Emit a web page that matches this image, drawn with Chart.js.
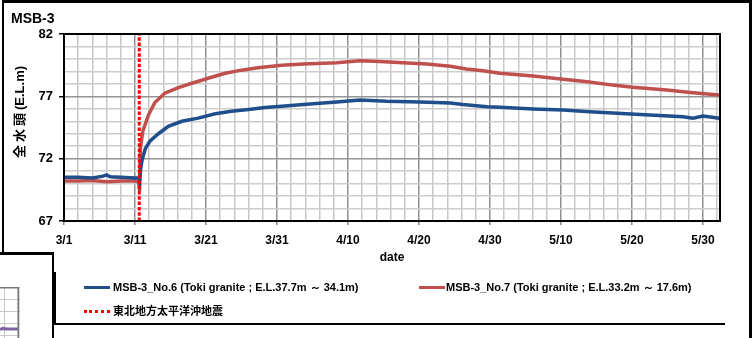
<!DOCTYPE html>
<html>
<head>
<meta charset="utf-8">
<script src="https://cdn.jsdelivr.net/npm/chart.js@4.4.0/dist/chart.umd.min.js"></script>
<style>
body { margin: 0; background: #fff; font-family: "Liberation Sans", Arial, sans-serif; }
#wrap { position: relative; width: 752px; height: 338px; overflow: hidden; }
#main { position: absolute; left: 0; top: 0; }
#inset { position: absolute; left: 0; top: 287px; }
.bar { position: absolute; background: #000; }
#title { position: absolute; left: 11px; top: 10px; font-weight: bold; font-size: 14px; }
#ytitle { position: absolute; left: 18px; top: 112px; transform: translate(-50%, -50%) rotate(-90deg);
  font-weight: bold; font-size: 13px; white-space: nowrap; font-family: "Liberation Sans", "Noto Sans CJK JP", sans-serif; }
#ytitle .jp { letter-spacing: 3px; }
.item { position: absolute; font-weight: bold; font-size: 11px; white-space: nowrap; line-height: 12px; }
.item .jp { font-family: "Noto Sans CJK JP", sans-serif; font-size: 11px; }
.swatch { position: absolute; width: 26px; height: 0; }
</style>
</head>
<body>
<div id="wrap">
  <canvas id="main" width="752" height="338"></canvas>
  <canvas id="inset" width="20" height="51"></canvas>

  <!-- figure frames -->
  <div class="bar" style="left:2px;top:0;width:750px;height:3px"></div>
  <div class="bar" style="left:2px;top:0;width:2px;height:253px"></div>
  <div class="bar" style="left:749px;top:0;width:3px;height:338px"></div>
  <div class="bar" style="left:0;top:252px;width:54px;height:3px"></div>
  <div class="bar" style="left:52px;top:252px;width:2px;height:86px"></div>
  <div class="bar" style="left:54px;top:272px;width:2px;height:53px"></div>
  <div class="bar" style="left:54px;top:323px;width:671px;height:2px"></div>

  <div id="title">MSB-3</div>
  <div id="ytitle"><span class="jp">全水頭</span>(E.L.m)</div>

  <div class="swatch" style="left:84px;top:286px;border-top:3px solid #1f4e8a"></div>
  <div class="item" style="left:113px;top:281px">MSB-3_No.6 (Toki granite ; E.L.37.7m ～ 34.1m)</div>
  <div class="swatch" style="left:419px;top:286px;border-top:3px solid #c0504d"></div>
  <div class="item" style="left:446px;top:281px">MSB-3_No.7 (Toki granite ; E.L.33.2m ～ 17.6m)</div>
  <div class="swatch" style="left:84px;top:310px;border-top:3px dotted #ff0000"></div>
  <div class="item" style="left:113px;top:304px"><span class="jp">東北地方太平洋沖地震</span></div>
</div>

<script>
// days counted from 3/1
const xTickLabels = ['3/1', '3/11', '3/21', '3/31', '4/10', '4/20', '4/30', '5/10', '5/20', '5/30'];
const yMajor = [67, 72, 77, 82];
const quakeDay = 10.6;

// MSB-3_No.6
const no6Days = [0, 2, 4, 5.5, 6, 6.5, 8, 10, 10.55, 10.65, 10.8, 11.0, 11.45, 12.1, 13.3, 14.7, 16.6, 18.9,
  21.3, 23.6, 26.0, 28.3, 30.7, 33.7, 38.4, 41.7, 45.4, 50.1, 54.4, 56.2, 59.6, 61.4, 66.1, 70.3, 74.1,
  77.9, 82.5, 87.2, 88.6, 90.0, 92.3];
const no6Levels = [70.5, 70.5, 70.45, 70.6, 70.7, 70.55, 70.5, 70.45, 70.45, 70.2, 71.2, 71.9, 72.8, 73.4, 74.0,
  74.6, 75.0, 75.25, 75.6, 75.8, 75.95, 76.1, 76.2, 76.35, 76.55, 76.7, 76.6, 76.55, 76.47, 76.35, 76.17,
  76.12, 75.98, 75.9, 75.77, 75.64, 75.5, 75.37, 75.24, 75.42, 75.24];

// MSB-3_No.7
const no7Days = [0, 2, 4, 6, 8, 10, 10.5, 10.65, 10.75, 11.1, 11.9, 12.8, 14.2, 16.1, 18.0, 20.3, 22.7, 25.0,
  27.3, 29.0, 30.7, 33.7, 38.4, 41.7, 44.5, 47.7, 51.1, 54.4, 56.7, 59.0, 61.4, 66.1, 70.3, 73.7, 77.3,
  80.1, 84.9, 88.2, 92.3];
const no7Levels = [70.2, 70.2, 70.25, 70.15, 70.2, 70.2, 70.15, 69.4, 72.8, 74.2, 75.5, 76.5, 77.25, 77.7, 78.05,
  78.45, 78.85, 79.1, 79.3, 79.4, 79.5, 79.6, 79.7, 79.85, 79.8, 79.7, 79.6, 79.42, 79.2, 79.06, 78.85,
  78.63, 78.37, 78.17, 77.9, 77.73, 77.5, 77.3, 77.1];

// piece of the neighbouring figure, bottom left
const insetX = [-0.3, -0.1, 0.2, 1.0];
const insetY = [0.45, 0.55, 0.5, 0.5];

function points(xs, ys) {
    return xs.map((x, i) => ({ x: x, y: ys[i] }));
}

const plotFrame = {
    id: 'plotFrame',
    afterDatasetsDraw(chart) {
        const { ctx, chartArea: a } = chart;
        ctx.save();
        ctx.strokeStyle = '#000';
        ctx.lineWidth = 2;
        ctx.strokeRect(a.left, a.top, a.right - a.left, a.bottom - a.top);
        ctx.restore();
    }
};

const tickFont = { family: '"Liberation Sans", Arial, sans-serif', weight: 'bold', size: 13 };

new Chart(document.getElementById('main'), {
    type: 'line',
    data: {
        datasets: [{
            label: '東北地方太平洋沖地震',
            data: points([quakeDay, quakeDay], [67, 82]),
            borderColor: '#ff0000',
            borderWidth: 3,
            borderDash: [3.5, 1.8],
            pointRadius: 0
        }, {
            label: 'MSB-3_No.6',
            data: points(no6Days, no6Levels),
            borderColor: '#1f4e8a',
            borderWidth: 3.5,
            pointRadius: 0
        }, {
            label: 'MSB-3_No.7',
            data: points(no7Days, no7Levels),
            borderColor: '#c0504d',
            borderWidth: 3.5,
            pointRadius: 0
        }]
    },
    options: {
        responsive: false,
        animation: false,
        devicePixelRatio: 1,
        layout: { padding: { left: 0, top: 34, right: 32, bottom: 73 } },
        plugins: { legend: { display: false }, tooltip: { enabled: false } },
        scales: {
            x: {
                type: 'linear',
                min: 0,
                max: 92.4,
                afterFit: (s) => { s.height = 44; },
                grid: {
                    color: (c) => (c.tick && c.tick.value % 10 === 0) ? '#8f8f8f' : '#c8c8c8',
                    lineWidth: 1.5,
                    tickLength: 4,
                    tickColor: (c) => (c.tick && c.tick.value % 10 === 0) ? '#888' : 'rgba(0,0,0,0)'
                },
                border: { display: false },
                ticks: {
                    stepSize: 2,
                    autoSkip: false,
                    maxRotation: 0,
                    includeBounds: false,
                    color: '#000',
                    font: { ...tickFont, size: 12 },
                    padding: 8,
                    callback: (v) => v % 10 === 0 ? xTickLabels[v / 10] : ''
                },
                title: {
                    display: true,
                    text: 'date',
                    color: '#000',
                    font: { ...tickFont, size: 12 },
                    padding: { top: 0, bottom: 0 }
                }
            },
            y: {
                min: 67,
                max: 82,
                afterFit: (s) => { s.width = 64; },
                grid: {
                    color: (c) => yMajor.includes(c.tick.value) ? '#959595' : '#cdcdcd',
                    lineWidth: 1.5,
                    tickLength: 5,
                    tickColor: (c) => yMajor.includes(c.tick.value) ? '#000' : 'rgba(0,0,0,0)'
                },
                border: { display: false },
                ticks: {
                    stepSize: 1,
                    autoSkip: false,
                    color: '#000',
                    font: tickFont,
                    padding: 6,
                    callback: (v) => yMajor.includes(v) ? String(v) : ''
                }
            }
        }
    },
    plugins: [plotFrame]
});

// the small visible corner of the other figure
const insetFrame = {
    id: 'insetFrame',
    afterDatasetsDraw(chart) {
        const { ctx, chartArea: a } = chart;
        ctx.save();
        ctx.strokeStyle = '#777';
        ctx.lineWidth = 1.5;
        ctx.beginPath();
        ctx.moveTo(a.left, a.top + 0.75);
        ctx.lineTo(a.right - 1.5, a.top + 0.75);
        ctx.lineTo(a.right - 1.5, a.bottom);
        ctx.stroke();
        ctx.restore();
    }
};

new Chart(document.getElementById('inset'), {
    type: 'line',
    data: {
        datasets: [{
            data: points(insetX, insetY),
            borderColor: '#8064a2',
            borderWidth: 3,
            pointRadius: 0
        }]
    },
    options: {
        responsive: false,
        animation: false,
        devicePixelRatio: 1,
        layout: { padding: 0 },
        plugins: { legend: { display: false }, tooltip: { enabled: false } },
        scales: {
            x: {
                type: 'linear', min: -0.3, max: 1.15,
                afterFit: (s) => { s.height = 0; },
                grid: { color: '#c8c8c8', drawTicks: false },
                border: { display: false },
                ticks: { display: false, stepSize: 1, includeBounds: false }
            },
            y: {
                min: -0.25, max: 4,
                afterFit: (s) => { s.width = 0; },
                grid: { color: '#c8c8c8', drawTicks: false },
                border: { display: false },
                ticks: { display: false, stepSize: 1, includeBounds: false }
            }
        }
    },
    plugins: [insetFrame]
});
</script>
</body>
</html>
